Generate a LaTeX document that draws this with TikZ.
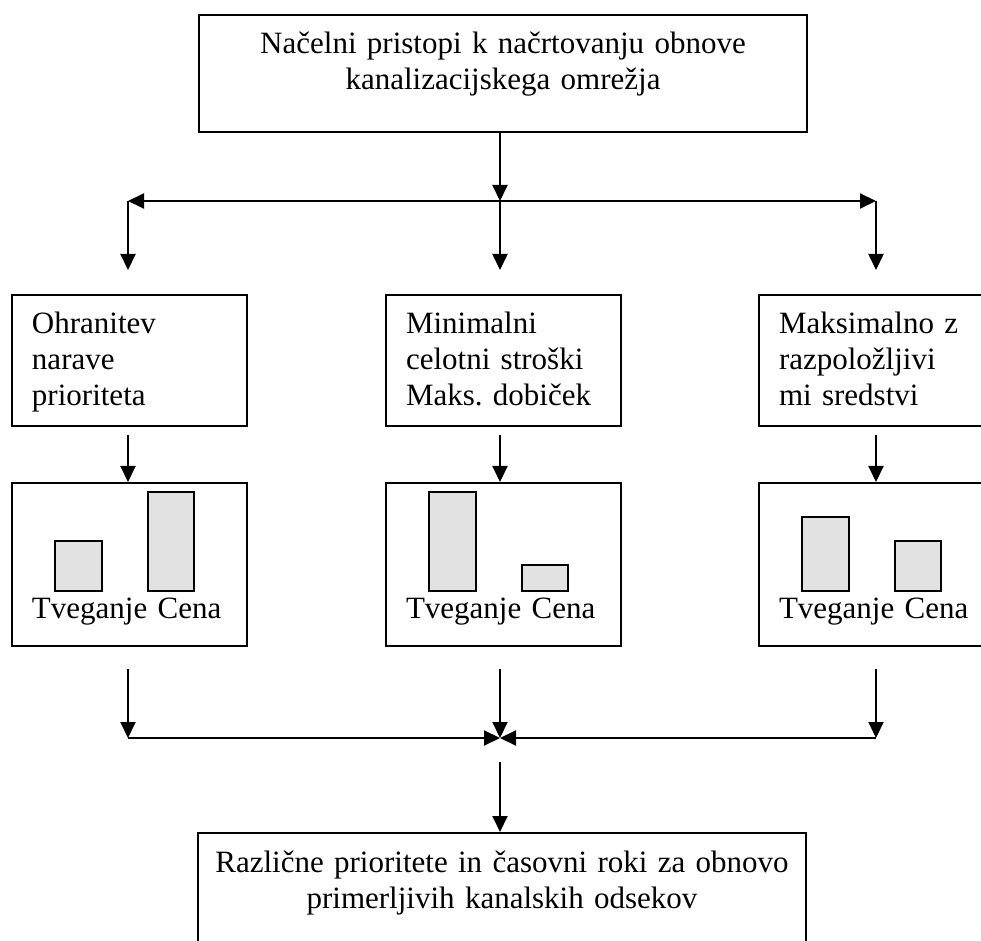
\documentclass[tikz,border=0pt]{standalone}
\usepackage{fontspec}
\setmainfont{Liberation Serif}
\usetikzlibrary{positioning, arrows.meta, calc}
\definecolor{barfill}{RGB}{226,226,226}

\begin{document}
\begin{tikzpicture}[x=0.5pt, y=-0.5pt, >={Triangle[length=8pt,width=7.5pt]},
  every node/.style={font=\fontsize{15.5}{18}\selectfont},
  wide/.style={draw, line width=1pt, inner xsep=0pt, inner ysep=0pt, align=center, text width=304pt, text height=19.5pt, anchor=north},
  goal/.style={draw, line width=1pt, inner xsep=10pt, inner ysep=0pt, align=left, text width=97.5pt, text height=19.5pt, text depth=46pt, anchor=north west},
  risk/.style={goal, text height=67.5pt, text depth=14pt},
  bar/.style={draw, line width=1.3pt, fill=barfill},
  flow/.style={->, line width=1pt}]

  \useasboundingbox (0,0) rectangle (981,941);
  \clip (0,0) rectangle (981,941);

  \node[wide, text depth=39pt] (plan) at (503,14) {Načelni pristopi k načrtovanju obnove\\kanalizacijskega omrežja};

  \coordinate (split) at (500,201);
  \coordinate (split-l) at (128,201);
  \coordinate (split-r) at (876,201);

  \node[goal] (goal-l) at (11,294) {Ohranitev\\narave\\prioriteta};
  \node[goal] (goal-m) at (385,294) {Minimalni\\celotni stroški\\Maks.\ dobiček};
  \node[goal] (goal-r) at (758,294) {Maksimalno z\\razpoložljivi\\mi sredstvi};

  \node[risk] (risk-l) at (11,482) {Tveganje Cena};
  \node[risk] (risk-m) at (385,482) {Tveganje Cena};
  \node[risk] (risk-r) at (758,482) {Tveganje Cena};

  % bars: risk / cost
  \foreach \b/\hr/\hc in {l/50/99, m/99/26, r/74/50}{
    \draw[bar] ($(risk-\b.north west)+(44,109)$) rectangle ++(47,-\hr);
    \draw[bar] ($(risk-\b.north west)+(137,109)$) rectangle ++(46,-\hc);
  }

  \coordinate (join) at (500,738);
  \coordinate (join-l) at (128,738);
  \coordinate (join-r) at (876,738);

  \node[wide, text depth=70pt] (result) at (502,832) {Različne prioritete in časovni roki za obnovo\\primerljivih kanalskih odsekov};

  \draw[flow] (plan.south -| split) -- (split);
  \draw[flow, <->] (split-l) -- (split-r);
  \draw[flow, shorten >=12pt] (split-l) -- (split-l |- goal-l.north);
  \draw[flow, shorten >=12pt] (split) -- (split |- goal-m.north);
  \draw[flow, shorten >=12pt] (split-r) -- (split-r |- goal-r.north);

  \draw[flow, shorten <=4pt] (goal-l.south -| split-l) -- (risk-l.north -| split-l);
  \draw[flow, shorten <=4pt] (goal-m.south -| split) -- (risk-m.north -| split);
  \draw[flow, shorten <=4pt] (goal-r.south -| split-r) -- (risk-r.north -| split-r);

  \draw[flow, shorten <=11pt] (risk-l.south -| join-l) -- (join-l);
  \draw[flow, shorten <=11pt] (risk-m.south -| join) -- (join);
  \draw[flow, shorten <=11pt] (risk-r.south -| join-r) -- (join-r);
  \draw[flow] (join-l) -- (join);
  \draw[flow] (join-r) -- (join);
  \draw[flow, shorten <=12pt] (join) -- (join |- result.north);

\end{tikzpicture}
\end{document}
